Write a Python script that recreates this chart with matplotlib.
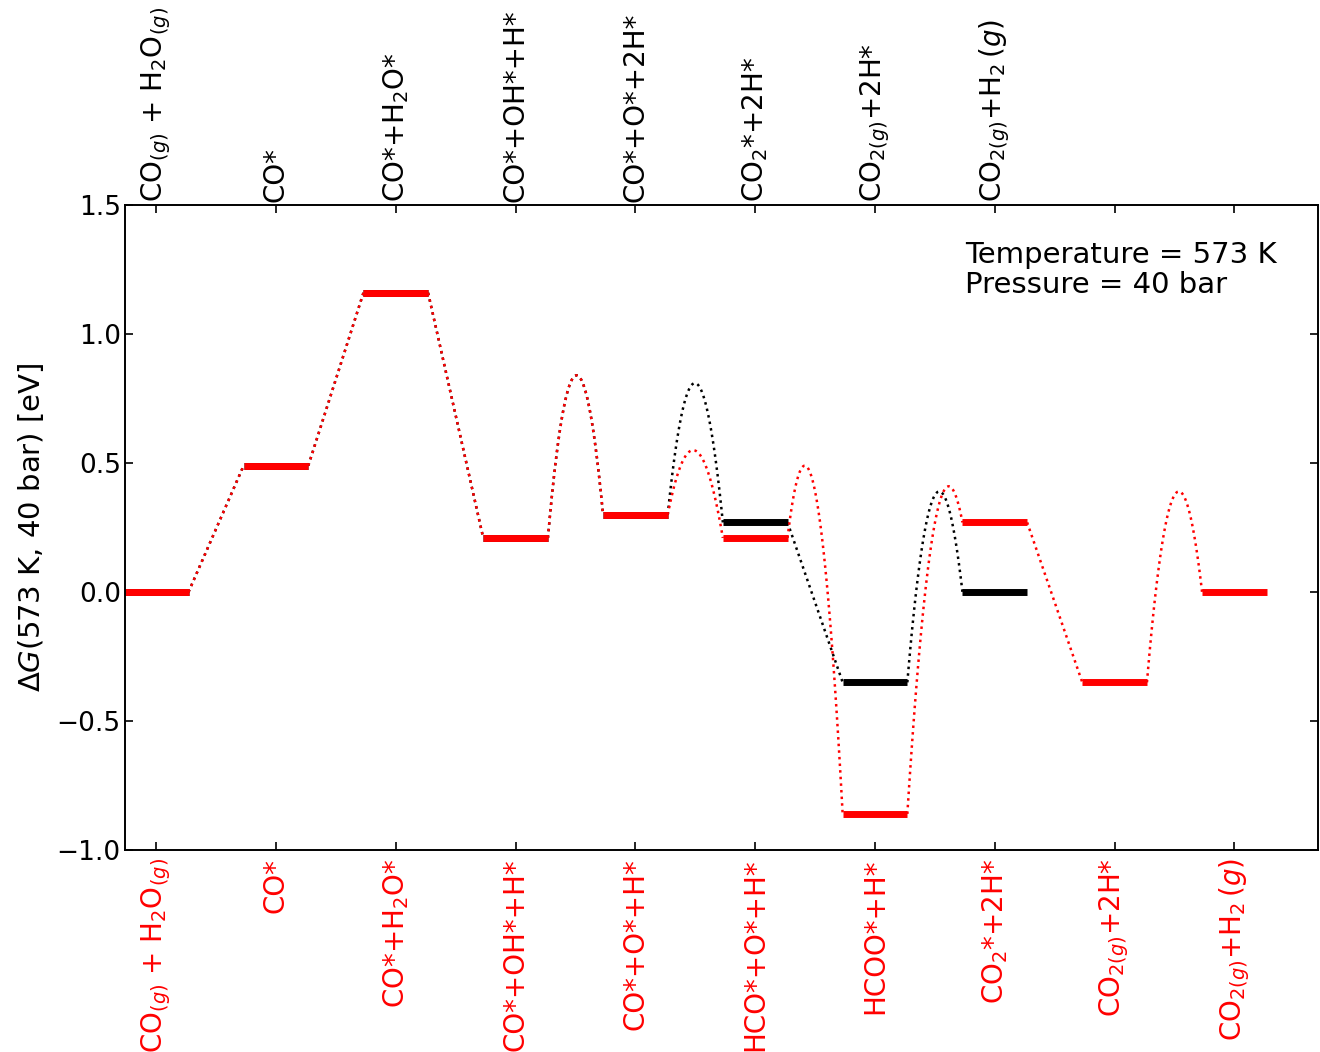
import numpy as np
import matplotlib.pyplot as plt

# 自由能图：两条路径（红色：羧基/甲酸根路径，黑色：氧化还原路径）
red_labels = [r"CO$_{(g)}$ + H$_2$O$_{(g)}$", r"CO*", r"CO*+H$_2$O*", r"CO*+OH*+H*",
              r"CO*+O*+H*", r"HCO*+O*+H*", r"HCOO*+H*", r"CO$_2$*+2H*",
              r"CO$_{2(g)}$+2H*", r"CO$_{2(g)}$+H$_2\,(g)$"]
red_G = [0.0, 0.49, 1.16, 0.21, 0.30, 0.21, -0.86, 0.27, -0.35, 0.0]
red_ts = [None, None, None, 0.84, 0.55, 0.49, 0.41, None, 0.39]

black_labels = [r"CO$_{(g)}$ + H$_2$O$_{(g)}$", r"CO*", r"CO*+H$_2$O*", r"CO*+OH*+H*",
                r"CO*+O*+2H*", r"CO$_2$*+2H*", r"CO$_{2(g)}$+2H*", r"CO$_{2(g)}$+H$_2\,(g)$"]
black_G = [0.0, 0.49, 1.16, 0.21, 0.30, 0.27, -0.35, 0.0]
black_ts = [None, None, None, 0.84, 0.81, None, 0.39]

yticks = [-1.0, -0.5, 0.0, 0.5, 1.0, 1.5]

HALF = 0.27


def draw_path(ax, G, ts, color):
    # 各状态的水平线
    for i, g in enumerate(G):
        ax.plot([i - HALF, i + HALF], [g, g], color=color, lw=5, solid_capstyle='butt')
    # 状态之间的连线，有能垒的画抛物线
    for i, b in enumerate(ts):
        x1, x2 = i + HALF, i + 1 - HALF
        y1, y2 = G[i], G[i + 1]
        if b is None:
            ax.plot([x1, x2], [y1, y2], ':', color=color, lw=1.8)
        else:
            s1, s2 = np.sqrt(b - y1), np.sqrt(b - y2)
            h = x1 + (x2 - x1) * s1 / (s1 + s2)
            a = ((s1 + s2) / (x2 - x1)) ** 2
            xs = np.linspace(x1, x2, 80)
            ax.plot(xs, b - a * (xs - h) ** 2, ':', color=color, lw=1.8)


fig = plt.figure(figsize=(13.2, 10.52), dpi=100)
ax = fig.add_axes([0.0947, 0.192, 0.904, 0.613])

draw_path(ax, black_G, black_ts, 'black')
draw_path(ax, red_G, red_ts, 'red')

ax.set_xlim(-0.26, 9.7)
ax.set_ylim(-1.0, 1.5)
ax.set_yticks(yticks)
ax.set_yticklabels([("%.1f" % v).replace('-', '\u2212') for v in yticks])
ax.set_xticks(range(len(red_labels)))
ax.set_xticklabels(red_labels, rotation=90, color='red', fontsize=20)
ax.tick_params(axis='both', direction='in', length=6, width=1.2)
ax.tick_params(axis='y', labelsize=19, right=True, pad=3)
ax.tick_params(axis='x', pad=6)
ax.set_ylabel(r"$\Delta G$(573 K, 40 bar) [eV]", fontsize=21, labelpad=8)

ax2 = ax.twiny()
ax2.set_xlim(ax.get_xlim())
ax2.set_xticks(range(len(red_labels)))
ax2.set_xticklabels(black_labels + [''] * (len(red_labels) - len(black_labels)),
                    rotation=90, fontsize=20)
ax2.tick_params(axis='x', direction='in', length=6, width=1.2, pad=2)

for a in (ax, ax2):
    for s in a.spines.values():
        s.set_linewidth(1.2)

ax.text(6.75, 1.36, "Temperature = 573 K\nPressure = 40 bar", fontsize=21,
        va='top', ha='left', linespacing=1.1)

fig.savefig("out.png", dpi=100)
